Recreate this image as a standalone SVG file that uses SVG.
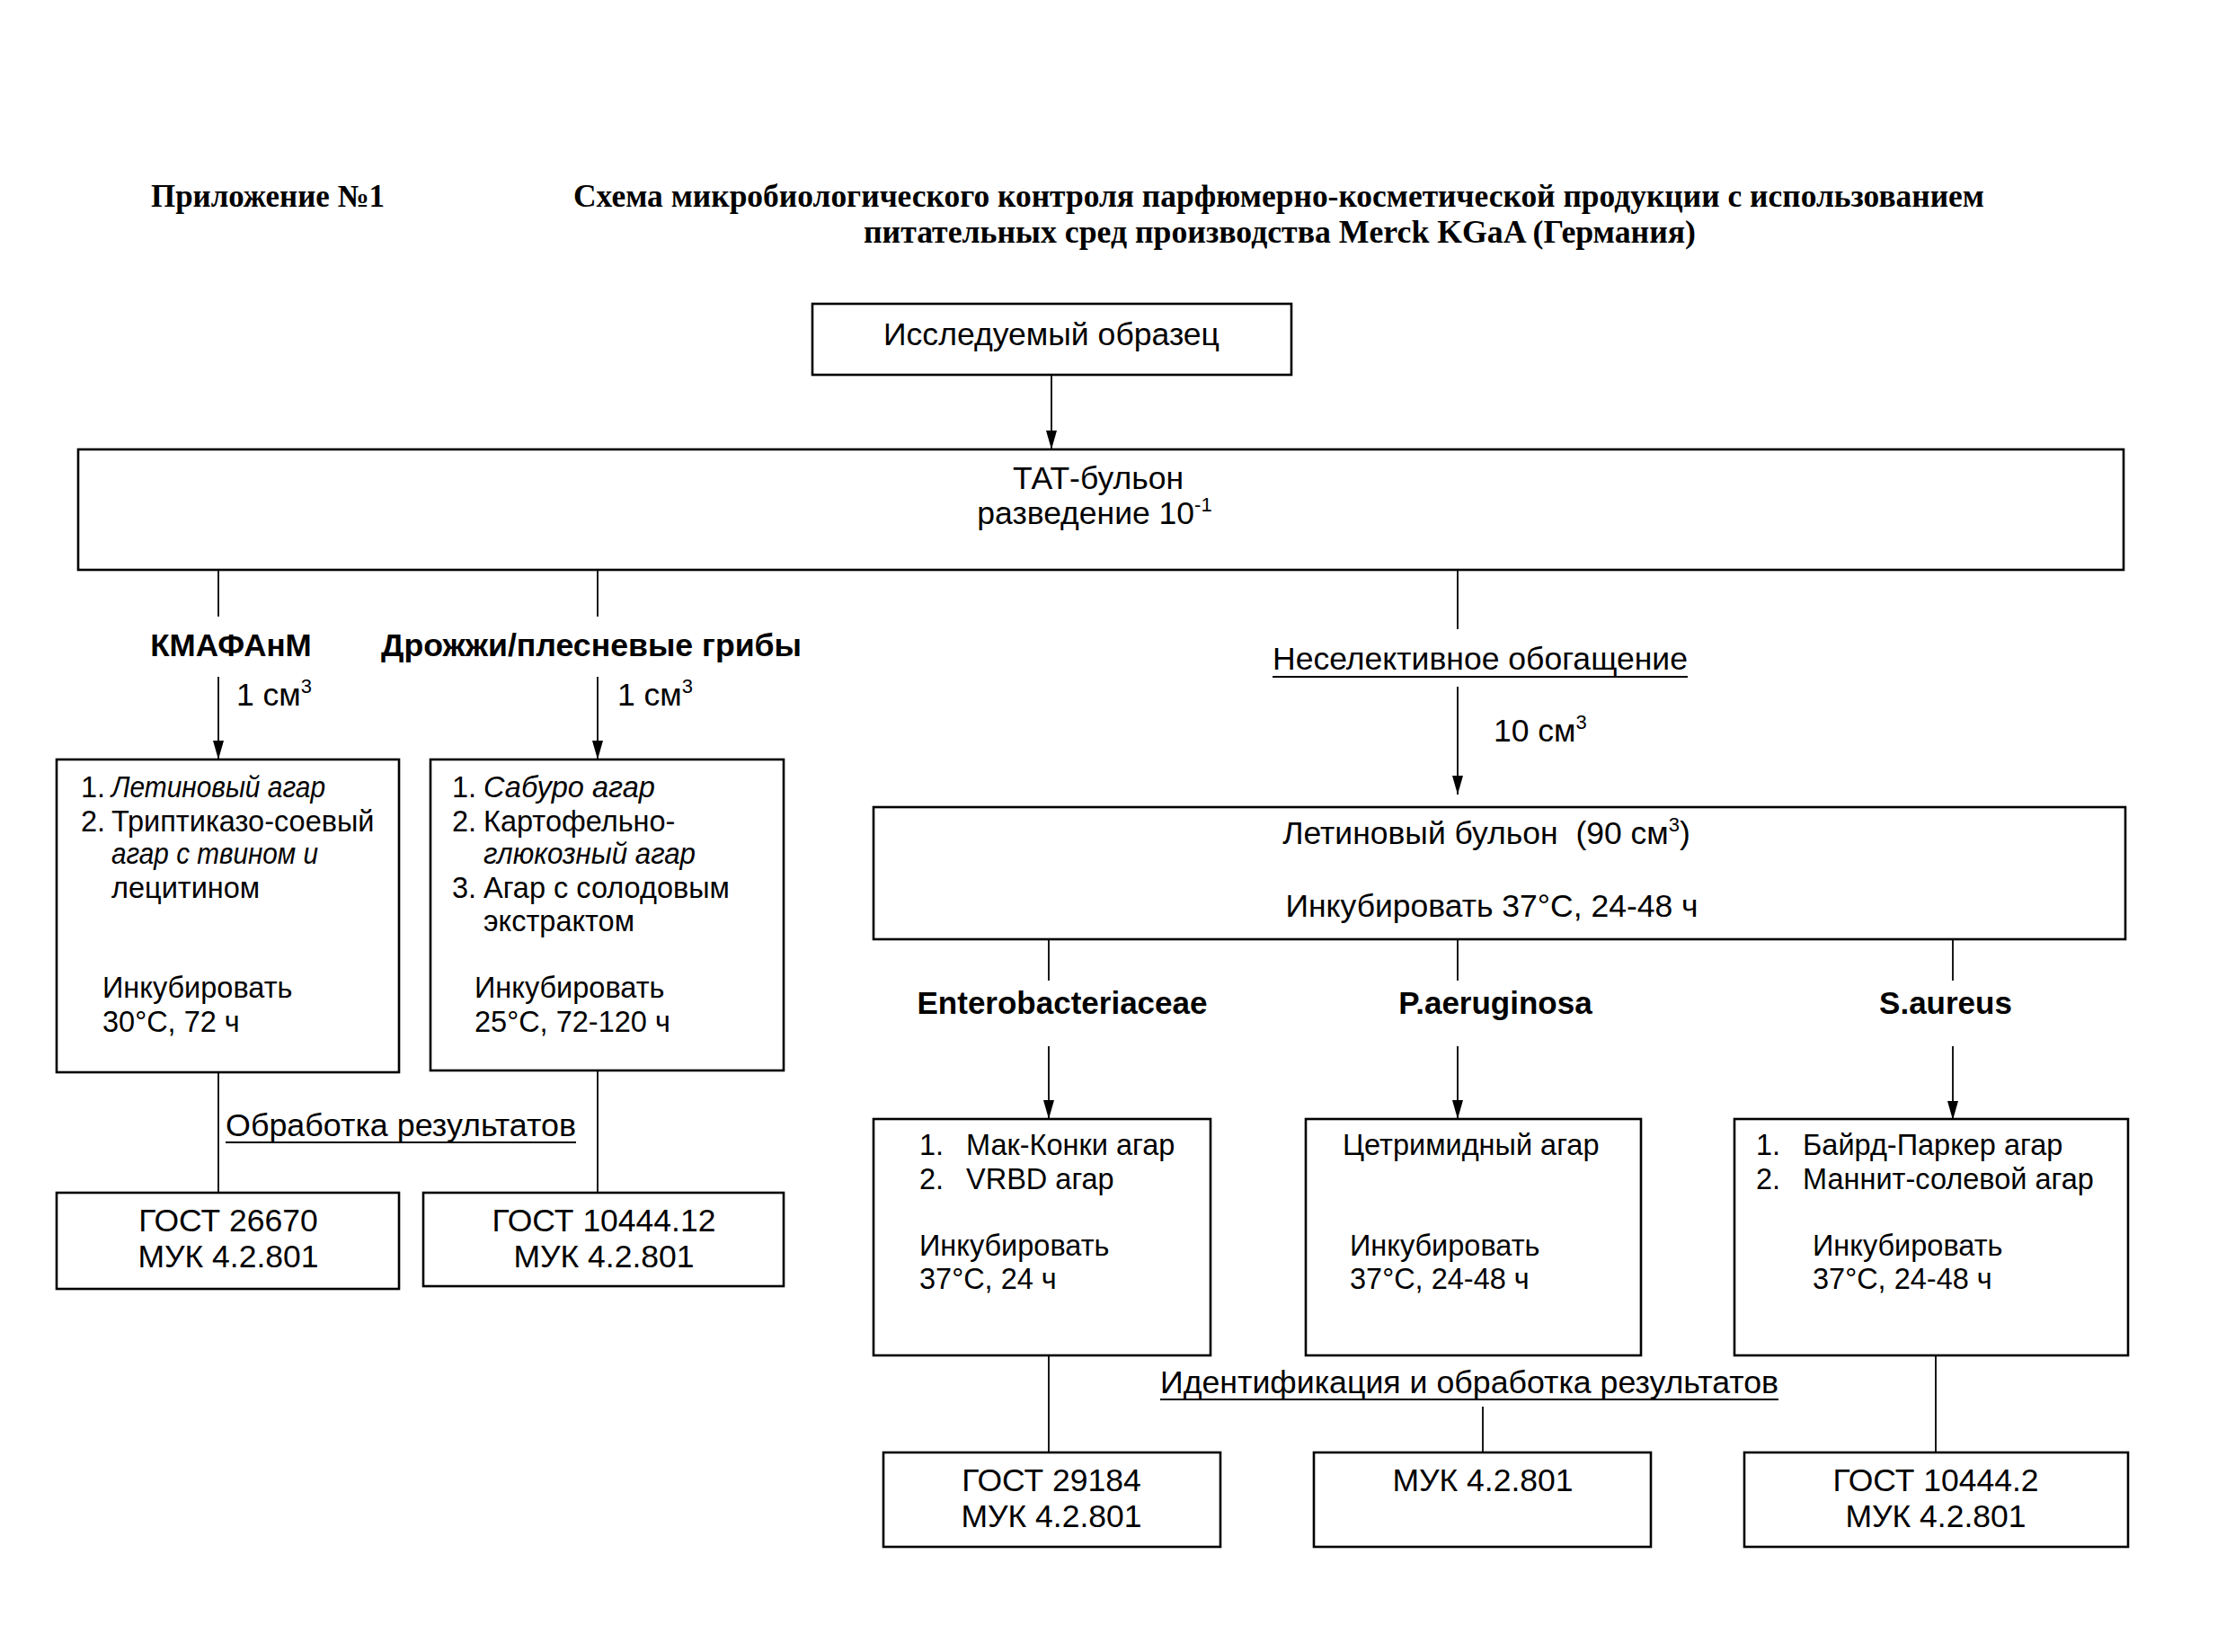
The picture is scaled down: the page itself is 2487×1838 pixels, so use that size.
<svg xmlns="http://www.w3.org/2000/svg" width="2487" height="1838" viewBox="0 0 2487 1838">
<style>
.t{font-family:"Liberation Serif","Times New Roman",serif;font-weight:bold;font-size:35px;fill:#000}
.s{font-family:"Liberation Sans",Arial,sans-serif;font-size:32.5px;fill:#000}
.m{font-family:"Liberation Sans",Arial,sans-serif;font-size:35.5px;fill:#000}
.b{font-family:"Liberation Sans",Arial,sans-serif;font-size:35px;font-weight:bold;fill:#000}
.c{text-anchor:middle}
.i{font-style:italic}
.box{fill:#fff;stroke:#000;stroke-width:2.6}
.ln{fill:none;stroke:#000;stroke-width:1.8}
.u{stroke:#000;stroke-width:2}
</style>
<defs>
<marker id="arr" markerUnits="userSpaceOnUse" markerWidth="22" markerHeight="14" refX="21" refY="7" orient="auto" viewBox="0 0 22 14">
<path d="M0,1 L21,7 L0,13 Z" fill="#000"/>
</marker>
</defs>
<rect width="2487" height="1838" fill="#fff"/>

<g id="title">
<text class="t" x="168" y="230" textLength="260" lengthAdjust="spacingAndGlyphs">Приложение №1</text>
<text class="t" x="638" y="230" textLength="1570" lengthAdjust="spacingAndGlyphs">Схема микробиологического контроля парфюмерно-косметической продукции с использованием</text>
<text class="t" x="961" y="270" textLength="926" lengthAdjust="spacingAndGlyphs">питательных сред производства Merck KGaA (Германия)</text>
</g>

<g id="connectors">
<line class="ln" x1="1170" y1="417" x2="1170" y2="500" marker-end="url(#arr)"/>
<line class="ln" x1="243" y1="634" x2="243" y2="686"/>
<line class="ln" x1="665" y1="634" x2="665" y2="686"/>
<line class="ln" x1="1622" y1="634" x2="1622" y2="700"/>
<line class="ln" x1="243" y1="753" x2="243" y2="845" marker-end="url(#arr)"/>
<line class="ln" x1="665" y1="753" x2="665" y2="845" marker-end="url(#arr)"/>
<line class="ln" x1="1622" y1="764" x2="1622" y2="884" marker-end="url(#arr)"/>
<line class="ln" x1="243" y1="1193" x2="243" y2="1327"/>
<line class="ln" x1="665" y1="1191" x2="665" y2="1327"/>
<line class="ln" x1="1167" y1="1045" x2="1167" y2="1091"/>
<line class="ln" x1="1622" y1="1045" x2="1622" y2="1091"/>
<line class="ln" x1="2173" y1="1045" x2="2173" y2="1091"/>
<line class="ln" x1="1167" y1="1164" x2="1167" y2="1245" marker-end="url(#arr)"/>
<line class="ln" x1="1622" y1="1164" x2="1622" y2="1245" marker-end="url(#arr)"/>
<line class="ln" x1="2173" y1="1164" x2="2173" y2="1246" marker-end="url(#arr)"/>
<line class="ln" x1="1167" y1="1508" x2="1167" y2="1616"/>
<line class="ln" x1="1650" y1="1565" x2="1650" y2="1616"/>
<line class="ln" x1="2154" y1="1508" x2="2154" y2="1616"/>
</g>

<g id="sample">
<rect class="box" x="904" y="338" width="533" height="79"/>
<text class="m c" x="1170" y="384" textLength="374" lengthAdjust="spacingAndGlyphs">Исследуемый образец</text>
</g>

<g id="tat">
<rect class="box" x="87" y="500" width="2276" height="134"/>
<text class="m c" x="1222" y="544">ТАТ-бульон</text>
<text class="m c" x="1218" y="583">разведение 10<tspan font-size="22" dy="-14">-1</tspan></text>
</g>

<g id="labels">
<text class="b c" x="257" y="730">КМАФАнМ</text>
<text class="b c" x="658" y="730" textLength="468" lengthAdjust="spacingAndGlyphs">Дрожжи/плесневые грибы</text>
<text class="m" x="263" y="785">1 см<tspan font-size="22" dy="-14">3</tspan></text>
<text class="m" x="687" y="785">1 см<tspan font-size="22" dy="-14">3</tspan></text>
<text class="m c" x="1647" y="745" textLength="462" lengthAdjust="spacingAndGlyphs">Неселективное обогащение</text>
<line class="u" x1="1416" y1="753" x2="1878" y2="753"/>
<text class="m" x="1662" y="825">10 см<tspan font-size="22" dy="-14">3</tspan></text>
<text class="m c" x="446" y="1264" textLength="390" lengthAdjust="spacingAndGlyphs">Обработка результатов</text>
<line class="u" x1="251" y1="1271" x2="641" y2="1271"/>
<text class="b c" x="1182" y="1128">Enterobacteriaceae</text>
<text class="b c" x="1664" y="1128">P.aeruginosa</text>
<text class="b c" x="2165" y="1128">S.aureus</text>
<text class="m c" x="1635" y="1550" textLength="688" lengthAdjust="spacingAndGlyphs">Идентификация и обработка результатов</text>
<line class="u" x1="1291" y1="1557" x2="1979" y2="1557"/>
</g>

<g id="kmafanm">
<rect class="box" x="63" y="845" width="381" height="348"/>
<text class="s" x="90" y="887">1.</text>
<text class="s i" x="124" y="887" textLength="238" lengthAdjust="spacingAndGlyphs">Летиновый агар</text>
<text class="s" x="90" y="925">2. <tspan x="124">Триптиказо-соевый</tspan></text>
<text class="s i" x="124" y="961" textLength="230" lengthAdjust="spacingAndGlyphs">агар с твином и</text>
<text class="s" x="124" y="999">лецитином</text>
<text class="s" x="114" y="1110">Инкубировать</text>
<text class="s" x="114" y="1148">30°C, 72 ч</text>
</g>

<g id="yeast">
<rect class="box" x="479" y="845" width="393" height="346"/>
<text class="s" x="503" y="887">1. <tspan class="i" x="538">Сабуро агар</tspan></text>
<text class="s" x="503" y="925">2. <tspan x="538">Картофельно-</tspan></text>
<text class="s i" x="538" y="961" textLength="236" lengthAdjust="spacingAndGlyphs">глюкозный агар</text>
<text class="s" x="503" y="999">3. <tspan x="538">Агар с солодовым</tspan></text>
<text class="s" x="538" y="1036">экстрактом</text>
<text class="s" x="528" y="1110">Инкубировать</text>
<text class="s" x="528" y="1148">25°C, 72-120 ч</text>
</g>

<g id="gost1">
<rect class="box" x="63" y="1327" width="381" height="107"/>
<text class="m c" x="254" y="1370">ГОСТ 26670</text>
<text class="m c" x="254" y="1410">МУК 4.2.801</text>
</g>

<g id="gost2">
<rect class="box" x="471" y="1327" width="401" height="104"/>
<text class="m c" x="672" y="1370">ГОСТ 10444.12</text>
<text class="m c" x="672" y="1410">МУК 4.2.801</text>
</g>

<g id="broth">
<rect class="box" x="972" y="898" width="1393" height="147"/>
<text class="m c" x="1654" y="939">Летиновый бульон&#160; (90 см<tspan font-size="22" dy="-14">3</tspan><tspan dy="14">)</tspan></text>
<text class="m c" x="1660" y="1020">Инкубировать 37°C, 24-48 ч</text>
</g>

<g id="entero">
<rect class="box" x="972" y="1245" width="375" height="263"/>
<text class="s" x="1023" y="1285">1.<tspan x="1075">Мак-Конки агар</tspan></text>
<text class="s" x="1023" y="1323">2.<tspan x="1075">VRBD агар</tspan></text>
<text class="s" x="1023" y="1397">Инкубировать</text>
<text class="s" x="1023" y="1434">37°C, 24 ч</text>
</g>

<g id="paer">
<rect class="box" x="1453" y="1245" width="373" height="263"/>
<text class="s" x="1494" y="1285">Цетримидный агар</text>
<text class="s" x="1502" y="1397">Инкубировать</text>
<text class="s" x="1502" y="1434">37°C, 24-48 ч</text>
</g>

<g id="saur">
<rect class="box" x="1930" y="1245" width="438" height="263"/>
<text class="s" x="1954" y="1285">1.<tspan x="2006">Байрд-Паркер агар</tspan></text>
<text class="s" x="1954" y="1323">2.<tspan x="2006">Маннит-солевой агар</tspan></text>
<text class="s" x="2017" y="1397">Инкубировать</text>
<text class="s" x="2017" y="1434">37°C, 24-48 ч</text>
</g>

<g id="gost3">
<rect class="box" x="983" y="1616" width="375" height="105"/>
<text class="m c" x="1170" y="1659">ГОСТ 29184</text>
<text class="m c" x="1170" y="1699">МУК 4.2.801</text>
</g>

<g id="muk">
<rect class="box" x="1462" y="1616" width="375" height="105"/>
<text class="m c" x="1650" y="1659">МУК 4.2.801</text>
</g>

<g id="gost4">
<rect class="box" x="1941" y="1616" width="427" height="105"/>
<text class="m c" x="2154" y="1659">ГОСТ 10444.2</text>
<text class="m c" x="2154" y="1699">МУК 4.2.801</text>
</g>
</svg>
